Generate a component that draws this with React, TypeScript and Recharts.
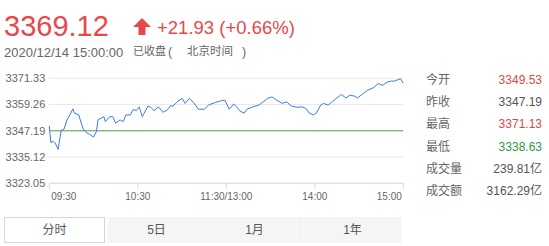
import React from "react";
import {
  LineChart,
  Line,
  XAxis,
  YAxis,
  CartesianGrid,
  ReferenceLine,
} from "recharts";

// Intraday quote, 2020-12-14 (minutes since 09:30, trading minutes only)
const minutes = [
  0, 1, 3, 4, 6, 8, 10, 12, 14, 16, 17, 20, 21, 23, 25, 27, 30, 32, 33, 37, 38,
  41, 43, 45, 48, 50, 52, 55, 57, 59, 61, 63, 67, 69, 71, 74, 77, 80, 82, 84,
  86, 90, 92, 95, 98, 101, 105, 108, 109, 112, 116, 119, 122, 125, 127, 129,
  132, 134, 136, 138, 142, 145, 148, 151, 154, 158, 161, 164, 168, 171, 174,
  176, 179, 181, 184, 186, 189, 192, 195, 198, 201, 204, 207, 209, 213, 216,
  220, 223, 226, 229, 232, 234, 238, 240,
];
const prices = [
  3349.53, 3341.9, 3342.3, 3341.6, 3338.63, 3347.3, 3348.0, 3352.2, 3354.5,
  3357.3, 3355.3, 3354.5, 3352.2, 3348.0, 3346.4, 3345.7, 3344.3, 3346.9,
  3352.2, 3353.7, 3351.4, 3353.7, 3353.7, 3350.7, 3352.2, 3351.4, 3354.5,
  3354.5, 3357.1, 3356.4, 3358.2, 3353.7, 3358.6, 3357.9, 3356.4, 3358.2,
  3355.7, 3356.8, 3358.6, 3358.6, 3360.1, 3362.1, 3359.8, 3362.1, 3360.1,
  3357.1, 3357.1, 3359.0, 3359.3, 3360.1, 3360.9, 3361.3, 3357.1, 3359.5,
  3358.2, 3356.4, 3355.3, 3357.1, 3357.6, 3358.2, 3359.0, 3360.5, 3362.1,
  3362.8, 3361.3, 3359.8, 3360.5, 3358.6, 3358.0, 3358.2, 3357.5, 3355.5,
  3354.5, 3355.3, 3359.0, 3359.8, 3359.0, 3360.7, 3362.3, 3363.9, 3362.3,
  3363.6, 3363.1, 3362.3, 3364.4, 3365.9, 3367.1, 3368.9, 3368.1, 3369.6,
  3370.1, 3370.0, 3371.13, 3369.12,
];

const priceTicks = [3323.05, 3335.12, 3347.19, 3359.26, 3371.33];
const timeTicks = [0, 60, 120, 180, 240];
const timeLabels = ["09:30", "10:30", "11:30/13:00", "14:00", "15:00"];
const prevClose = 3347.19;

const statLabels = ["今开", "昨收", "最高", "最低", "成交量", "成交额"];
const statValues = ["3349.53", "3347.19", "3371.13", "3338.63", "239.81亿", "3162.29亿"];
const statColors = ["#e0474c", "#555555", "#e0474c", "#2f9a3f", "#555555", "#555555"];

const tabs = ["分时", "5日", "1月", "1年"];

const chartData = minutes.map((t, i) => ({ t, price: prices[i] }));

const FONT = "'Liberation Sans', Arial, 'Noto Sans CJK SC', sans-serif";
const RED = "#e8474b";

const TimeTick = (props: any) => {
  const { x, y, payload, index } = props;
  const last = index === timeTicks.length - 1;
  const anchor = index === 0 ? "start" : last ? "end" : "middle";
  const dx = index === 0 ? 2 : last ? -1.5 : 0;
  return (
    <text
      x={x + dx}
      y={y}
      dy="0.71em"
      textAnchor={anchor}
      fill="#666"
      fontSize={10}
      fontFamily={FONT}
    >
      {timeLabels[timeTicks.indexOf(payload.value)]}
    </text>
  );
};

export default function App() {
  return (
    <div
      style={{
        position: "absolute",
        left: 0,
        top: 0,
        width: 549,
        height: 246,
        background: "#fff",
        fontFamily: FONT,
        overflow: "hidden",
      }}
    >
      {/* headline quote */}
      <div
        style={{
          position: "absolute",
          left: 4,
          top: 12,
          fontSize: 29,
          lineHeight: 1,
          color: RED,
        }}
      >
        3369.12
      </div>
      <svg
        style={{ position: "absolute", left: 133, top: 18 }}
        width={18}
        height={17}
        viewBox="0 0 18 17"
      >
        <polygon points="9,0 18,9 12.5,9 12.5,17 5.5,17 5.5,9 0,9" fill={RED} />
      </svg>
      <div
        style={{
          position: "absolute",
          left: 157,
          top: 18.5,
          fontSize: 18.5,
          lineHeight: 1,
          color: RED,
        }}
      >
        +21.93 (+0.66%)
      </div>
      <div
        style={{
          position: "absolute",
          left: 4,
          top: 46,
          fontSize: 13,
          lineHeight: 1,
          color: "#666",
          whiteSpace: "nowrap",
        }}
      >
        2020/12/14 15:00:00
      </div>
      <div style={{ position: "absolute", left: 133, top: 46, fontSize: 11, lineHeight: 1, color: "#666" }}>
        已收盘
      </div>
      <div style={{ position: "absolute", left: 168, top: 45.5, fontSize: 12.5, lineHeight: 1, color: "#666" }}>
        (
      </div>
      <div style={{ position: "absolute", left: 187, top: 46, fontSize: 11.5, lineHeight: 1, color: "#666" }}>
        北京时间
      </div>
      <div style={{ position: "absolute", left: 242, top: 45.5, fontSize: 12.5, lineHeight: 1, color: "#666" }}>
        )
      </div>

      {/* intraday chart */}
      <div style={{ position: "absolute", left: 0, top: 60 }}>
        <LineChart
          width={420}
          height={150}
          data={chartData}
          margin={{ top: 18.3, right: 16.7, bottom: 6.7, left: 0 }}
        >
          <CartesianGrid horizontal vertical={false} stroke="#e8e8e8" />
          <XAxis
            dataKey="t"
            type="number"
            domain={[0, 240]}
            ticks={timeTicks}
            height={20}
            stroke="#dcdcdc"
            tickSize={6}
            tickMargin={4}
            tick={<TimeTick />}
            interval={0}
          />
          <YAxis
            type="number"
            domain={[priceTicks[0], priceTicks[priceTicks.length - 1]]}
            ticks={priceTicks}
            width={49.3}
            axisLine={false}
            tickLine={false}
            tickSize={0}
            tickMargin={4}
            interval={0}
            tickFormatter={(v: number) => v.toFixed(2)}
            tick={{ fill: "#666", fontSize: 11, fontFamily: FONT }}
          />
          <ReferenceLine y={prevClose} stroke="#4fa64f" strokeWidth={1} />
          <Line
            type="linear"
            dataKey="price"
            stroke="#3b7ddc"
            strokeWidth={1}
            dot={false}
            isAnimationActive={false}
          />
        </LineChart>
      </div>

      {/* quote stats */}
      {statLabels.map((label, i) => (
        <React.Fragment key={label}>
          <div
            style={{
              position: "absolute",
              left: 426,
              top: 74 + i * 22.2,
              fontSize: 12,
              lineHeight: "12px",
              color: "#666",
            }}
          >
            {label}
          </div>
          <div
            style={{
              position: "absolute",
              right: 549 - 542,
              top: 74 + i * 22.2,
              fontSize: 12,
              lineHeight: "12px",
              color: statColors[i],
              whiteSpace: "nowrap",
            }}
          >
            {statValues[i]}
          </div>
        </React.Fragment>
      ))}

      {/* period tabs */}
      <div
        style={{
          position: "absolute",
          left: 4,
          top: 217,
          width: 99,
          height: 24,
          border: "1px solid #d6d6d6",
          background: "#fff",
          fontSize: 12,
          color: "#555",
          textAlign: "center",
          lineHeight: "24px",
        }}
      >
        {tabs[0]}
      </div>
      {tabs.slice(1).map((t, i) => (
        <div
          key={t}
          style={{
            position: "absolute",
            left: 108 + i * 98,
            top: 217,
            width: 97,
            height: 26,
            background: "#f5f5f5",
            borderRight: "1px solid #fafafa",
            fontSize: 12,
            color: "#555",
            textAlign: "center",
            lineHeight: "26px",
          }}
        >
          {t}
        </div>
      ))}
    </div>
  );
}
